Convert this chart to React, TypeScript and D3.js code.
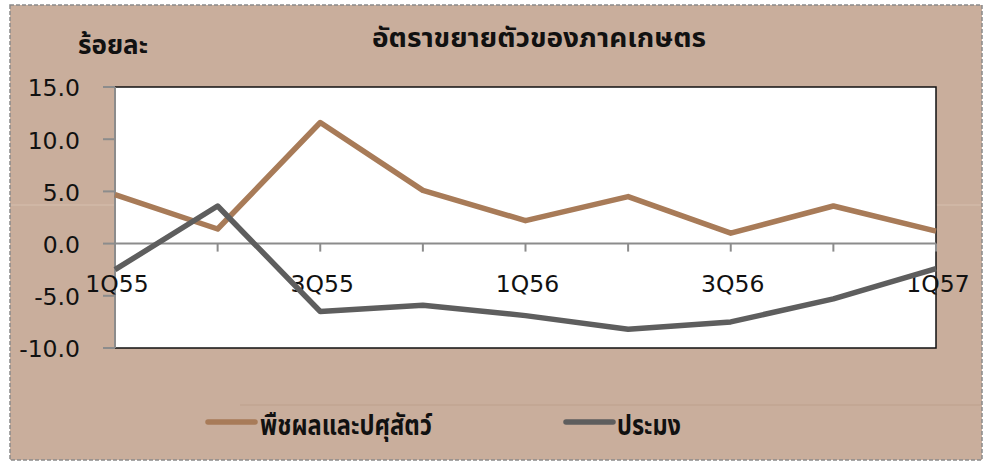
import React from "react";
import * as d3 from "d3";

const categories = ["1Q55", "2Q55", "3Q55", "4Q55", "1Q56", "2Q56", "3Q56", "4Q56", "1Q57"];
const tickLabels = ["1Q55", "", "3Q55", "", "1Q56", "", "3Q56", "", "1Q57"];
const cropsLivestock = [4.7, 1.4, 11.6, 5.1, 2.2, 4.5, 1.0, 3.6, 1.2];
const fishery = [-2.5, 3.6, -6.5, -5.9, -6.9, -8.2, -7.5, -5.3, -2.4];
const yTicks = [-10, -5, 0, 5, 10, 15];
const seriesNames = ["พืชผลและปศุสัตว์", "ประมง"];
const title = "อัตราขยายตัวของภาคเกษตร";
const unitLabel = "ร้อยละ";

const W = 986;
const H = 462;
const left = 115, right = 936, top = 87, bottom = 348;
const colors = ["#A87B58", "#5E5E5E"];
const numFont = "'DejaVu Sans', Verdana, sans-serif";
const thaiFont = "Tahoma, 'Noto Sans Thai', 'Noto Sans', 'DejaVu Sans', sans-serif";

export default function App() {
  const x = d3.scalePoint<string>().domain(categories).range([left, right]);
  const y = d3.scaleLinear().domain([-10, 15]).range([bottom, top]);
  const line = d3
    .line<number>()
    .x((_, i) => x(categories[i]) as number)
    .y((d) => y(d));
  const series = [cropsLivestock, fishery];
  const legendTextLen = [172, 64];
  return (
    <svg
      width={W}
      height={H}
      style={{ position: "absolute", left: 0, top: 0, display: "block" }}
    >
      <rect x={0} y={0} width={W} height={H} fill="#ffffff" />
      <rect x={10} y={5} width={972} height={455} fill="#C9AE9C" stroke="#8a8a8a" strokeWidth={1.5} strokeDasharray="4 2" />
      <line x1={11} x2={981} y1={205} y2={205} stroke="#d6bfae" strokeWidth={1} />
      <line x1={240} x2={981} y1={405} y2={405} stroke="#bda08c" strokeWidth={1} />
      {/* plot area */}
      <rect x={left} y={top} width={right - left} height={bottom - top} fill="#ffffff" stroke="#111" strokeWidth={1.5} />
      {/* y axis */}
      <line x1={left} x2={left} y1={top} y2={bottom} stroke="#8c8c8c" strokeWidth={2} />
      {yTicks.map((t) => (
        <g key={t}>
          <line x1={left - 12} x2={left} y1={y(t)} y2={y(t)} stroke="#8c8c8c" strokeWidth={2} />
          <text x={80} y={y(t) + 1} dy="0.36em" textAnchor="end" fontFamily={numFont} fontSize={23.5} fill="#111">
            {t.toFixed(1)}
          </text>
        </g>
      ))}
      {/* x labels */}
      {categories.map((c, i) => (
        <text key={c} x={(x(c) as number) + 2} y={y(0) + 40} dy="0.36em" textAnchor="middle" fontFamily={numFont} fontSize={23.5} fill="#111">
          {tickLabels[i]}
        </text>
      ))}
      {/* x axis at zero */}
      <line x1={left} x2={right} y1={y(0)} y2={y(0)} stroke="#8c8c8c" strokeWidth={2} />
      {categories.map((c) => (
        <line key={c} x1={x(c) as number} x2={x(c) as number} y1={y(0)} y2={y(0) + 8} stroke="#8c8c8c" strokeWidth={2} />
      ))}
      {/* lines */}
      {series.map((s, i) => (
        <path key={i} d={line(s) || ""} fill="none" stroke={colors[i]} strokeWidth={5.5} strokeLinejoin="round" />
      ))}
      {/* title */}
      <text x={372} y={37} dy="0.36em" textAnchor="start" textLength={334} lengthAdjust="spacingAndGlyphs" fontFamily={thaiFont} fontWeight="bold" fontSize={27} fill="#111">
        {title}
      </text>
      <text x={78} y={44} dy="0.36em" textAnchor="start" textLength={70} lengthAdjust="spacingAndGlyphs" fontFamily={thaiFont} fontWeight="bold" fontSize={27} fill="#111">
        {unitLabel}
      </text>
      {/* legend */}
      {[
        { lx: 208, tx: 260 },
        { lx: 566, tx: 617 },
      ].map((p, i) => (
        <g key={i}>
          <line x1={p.lx} x2={p.lx + 47} y1={422} y2={422} stroke={colors[i]} strokeWidth={5.5} strokeLinecap="round" />
          <text x={p.tx} y={425} dy="0.36em" textAnchor="start" textLength={legendTextLen[i]} lengthAdjust="spacingAndGlyphs" fontFamily={thaiFont} fontWeight="bold" fontSize={28} fill="#111">
            {seriesNames[i]}
          </text>
        </g>
      ))}
    </svg>
  );
}
